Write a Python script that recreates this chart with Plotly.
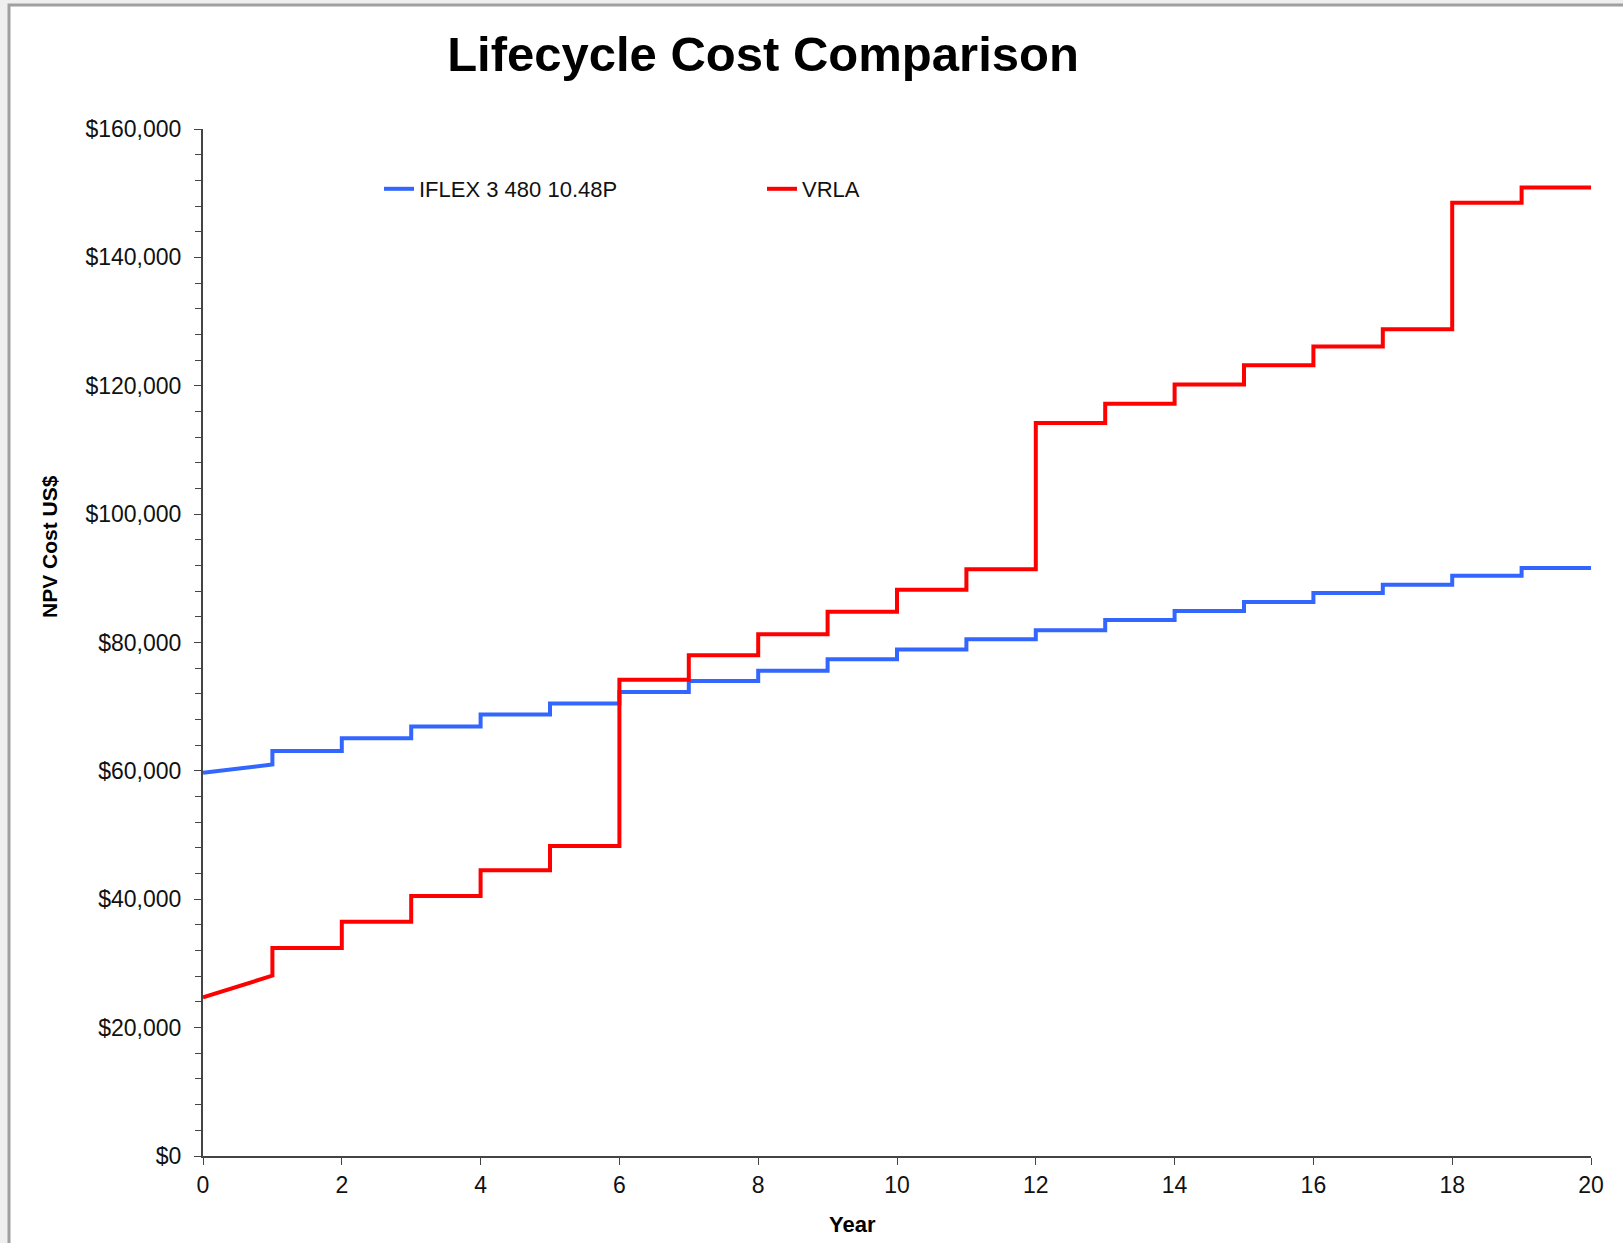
import plotly.graph_objects as go

# ---- data ----
# x positions of the polyline vertices (years); duplicates form the vertical steps
years = [0, 1, 1, 2, 2, 3, 3, 4, 4, 5, 5, 6, 6, 7, 7, 8, 8, 9, 9, 10, 10,
         11, 11, 12, 12, 13, 13, 14, 14, 15, 15, 16, 16, 17, 17, 18, 18, 19, 19, 20]

iflex_cost = [59700, 61000, 63100, 63100, 65100, 65100, 66900, 66900, 68800, 68800,
              70500, 70500, 72300, 72300, 74000, 74000, 75600, 75600, 77400, 77400,
              78900, 78900, 80500, 80500, 81900, 81900, 83500, 83500, 84900, 84900,
              86300, 86300, 87700, 87700, 89000, 89000, 90400, 90400, 91600, 91600]

vrla_cost = [24700, 28100, 32400, 32400, 36500, 36500, 40500, 40500, 44500, 44500,
             48300, 48300, 74200, 74200, 78000, 78000, 81300, 81300, 84800, 84800,
             88200, 88200, 91400, 91400, 114200, 114200, 117200, 117200, 120200, 120200,
             123200, 123200, 126100, 126100, 128800, 128800, 148500, 148500, 150900, 150900]

series_names = ["IFLEX 3 480 10.48P", "VRLA"]
x_tick_vals = [0, 2, 4, 6, 8, 10, 12, 14, 16, 18, 20]
y_tick_vals = [0, 20000, 40000, 60000, 80000, 100000, 120000, 140000, 160000]

FONT = "Liberation Sans, Arial, sans-serif"

# layout geometry (pixels)
W, H = 1623, 1243
ML, MR, MT, MB = 203, 32, 129, 87
PW, PH = W - ML - MR, H - MT - MB


def px_x(p):
    return (p - ML) / PW


def px_y(p):
    return (H - MB - p) / PH


fig = go.Figure()
fig.add_trace(go.Scatter(x=years, y=iflex_cost, mode="lines", name=series_names[0],
                         line=dict(color="#3366FF", width=4), legend="legend"))
fig.add_trace(go.Scatter(x=years, y=vrla_cost, mode="lines", name=series_names[1],
                         line=dict(color="#FF0000", width=4), legend="legend2"))

fig.update_layout(
    width=W, height=H,
    margin=dict(l=ML, r=MR, t=MT, b=MB),
    paper_bgcolor="#efefef",
    plot_bgcolor="white",
    font=dict(family=FONT, color="#111111", size=23),
    title=dict(text="<b>Lifecycle Cost Comparison</b>", x=763 / W, xanchor="center",
               y=1 - 54 / H, yanchor="middle", yref="container",
               font=dict(family=FONT, size=49, color="black")),
    showlegend=True,
    legend=dict(x=px_x(379), y=px_y(189), xanchor="left", yanchor="middle",
                bgcolor="rgba(0,0,0,0)", font=dict(size=22, family=FONT)),
    legend2=dict(x=px_x(762), y=px_y(189), xanchor="left", yanchor="middle",
                 bgcolor="rgba(0,0,0,0)", font=dict(size=22, family=FONT)),
    xaxis=dict(range=[0, 20], tickvals=x_tick_vals, ticks="outside", ticklen=7,
               tickcolor="#444", showline=True, linecolor="#444", linewidth=2,
               showgrid=False, zeroline=False, ticklabelstandoff=0,
               tickfont=dict(size=23, family=FONT)),
    yaxis=dict(range=[0, 160000], tickvals=y_tick_vals, tickformat="$,.0f",
               ticks="outside", ticklen=7, tickcolor="#444", showline=True,
               linecolor="#444", linewidth=2, showgrid=False, zeroline=False,
               ticklabelstandoff=8, tickfont=dict(size=23, family=FONT),
               minor=dict(ticks="outside", dtick=4000, ticklen=6, tickcolor="#444")),
    shapes=[dict(type="rect", xref="paper", yref="paper", layer="below",
                 x0=px_x(9), x1=px_x(1700), y0=px_y(1300), y1=px_y(5),
                 fillcolor="white", line=dict(color="#a0a0a0", width=3))],
    annotations=[
        dict(text="<b>NPV Cost US$</b>", xref="paper", yref="paper",
             x=px_x(49), y=px_y(547), textangle=-90, showarrow=False,
             xanchor="center", yanchor="middle", font=dict(size=21, family=FONT, color="black")),
        dict(text="<b>Year</b>", xref="paper", yref="paper",
             x=px_x(852), y=px_y(1224), showarrow=False,
             xanchor="center", yanchor="middle", font=dict(size=22, family=FONT, color="black")),
    ],
)

fig.write_html("out.html")
